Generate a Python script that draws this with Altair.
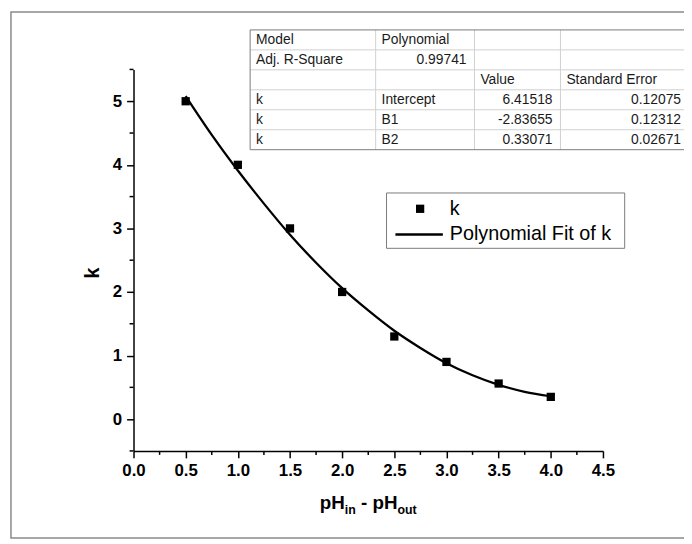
import altair as alt
import pandas as pd

# ---------------- data ----------------
ph_diff = [0.5, 1.0, 1.5, 2.0, 2.5, 3.0, 3.5, 4.0]
k_vals = [5.0, 4.0, 3.0, 2.0, 1.3, 0.9, 0.56, 0.35]

fit_x = [0.5, 0.75, 1.0, 1.25, 1.5, 1.75, 2.0, 2.25, 2.5, 2.75, 3.0, 3.25, 3.5, 3.75, 4.0]
fit_k = [5.08, 4.47, 3.91, 3.39, 2.90, 2.46, 2.06, 1.71, 1.39, 1.12, 0.88, 0.69, 0.54, 0.43, 0.36]

x_ticks = [0.0, 0.5, 1.0, 1.5, 2.0, 2.5, 3.0, 3.5, 4.0, 4.5]
x_minor = [0.25, 0.75, 1.25, 1.75, 2.25, 2.75, 3.25, 3.75, 4.25]
y_ticks = [0, 1, 2, 3, 4, 5]
y_minor = [-0.5, 0.5, 1.5, 2.5, 3.5, 4.5, 5.5]

table_model = ["Model", "Adj. R-Square", "", "k", "k", "k"]
table_param = ["Polynomial", "0.99741", "", "Intercept", "B1", "B2"]
table_value = ["", "", "Value", "6.41518", "-2.83655", "0.33071"]
table_error = ["", "", "Standard Error", "0.12075", "0.12312", "0.02671"]

legend_labels = ["k", "Polynomial Fit of k"]
x_title_parts = ["pH", "in", "-", "pH", "out"]
y_title = "k"

# ---------------- layout ----------------
W, H = 475, 386
OX, OY = 135, 67          # page position of plot origin
FONT = "Liberation Sans"


def px(X):
    return X - OX


def py(Y):
    return Y - OY


one = pd.DataFrame({"a": [0]})

# outer frame
frame = alt.Chart(one).mark_rect(filled=False, stroke="#8a8a8a", strokeWidth=1.5).encode(
    x=alt.value(px(11)), x2=alt.value(px(700)), y=alt.value(py(8.8)), y2=alt.value(py(541))
)

# ---------------- table ----------------
col_edges = [253, 380, 480, 567, 697]
row_top, row_h = 27, 20.2
n_rows = len(table_model)
columns = [table_model, table_param, table_value, table_error]


def is_num(s):
    try:
        float(s)
        return True
    except ValueError:
        return False


cells = []
for ci, col in enumerate(columns):
    for ri, txt in enumerate(col):
        if not txt:
            continue
        num = is_num(txt) and ci > 0
        cy = row_top + row_h * ri + row_h / 2 + 0.5
        if num:
            cells.append({"x": px(col_edges[ci + 1] - 8), "y": py(cy), "t": txt, "al": "right"})
        else:
            cells.append({"x": px(col_edges[ci] + 6), "y": py(cy), "t": txt, "al": "left"})
cells = pd.DataFrame(cells)

table_bottom = row_top + row_h * n_rows
table_bg = alt.Chart(one).mark_rect(fill="white").encode(
    x=alt.value(px(col_edges[0])), x2=alt.value(px(col_edges[-1])),
    y=alt.value(py(row_top)), y2=alt.value(py(table_bottom)),
)

lines = []
for ri in range(n_rows + 1):
    yy = row_top + row_h * ri
    c = "#7a7a7a" if ri in (0, n_rows) else "#cfcfcf"
    lines.append({"x": px(col_edges[0]), "x2": px(col_edges[-1]), "y": py(yy), "y2": py(yy), "c": c})
for ci, xx in enumerate(col_edges[:-1]):
    c = "#7a7a7a" if ci == 0 else "#cfcfcf"
    lines.append({"x": px(xx), "x2": px(xx), "y": py(row_top), "y2": py(table_bottom), "c": c})
lines = pd.DataFrame(lines)
lines = lines.sort_values("c", ascending=False)

table_lines = alt.Chart(lines).mark_rule(strokeWidth=1).encode(
    x=alt.X("x:Q", scale=None), x2="x2:Q",
    y=alt.Y("y:Q", scale=None), y2="y2:Q",
    color=alt.Color("c:N", scale=None),
)

table_text_left = alt.Chart(cells[cells.al == "left"]).mark_text(
    align="left", baseline="middle", font=FONT, fontSize=14, color="#1a1a1a"
).encode(x=alt.X("x:Q", scale=None), y=alt.Y("y:Q", scale=None), text="t:N")

table_text_right = alt.Chart(cells[cells.al == "right"]).mark_text(
    align="right", baseline="middle", font=FONT, fontSize=14, color="#1a1a1a"
).encode(x=alt.X("x:Q", scale=None), y=alt.Y("y:Q", scale=None), text="t:N")

# ---------------- legend ----------------
leg_box = alt.Chart(one).mark_rect(fill="white", stroke="#7a7a7a", strokeWidth=1).encode(
    x=alt.value(px(391)), x2=alt.value(px(632)), y=alt.value(py(192)), y2=alt.value(py(248))
)
leg_marker = alt.Chart(one).mark_square(size=70, color="black", opacity=1).encode(
    x=alt.value(px(425)), y=alt.value(py(208))
)
leg_line = alt.Chart(one).mark_rule(color="black", strokeWidth=2.5).encode(
    x=alt.value(px(400)), x2=alt.value(px(448)), y=alt.value(py(234))
)
leg_df = pd.DataFrame({"t": legend_labels, "y": [py(208), py(234)]})
leg_text = alt.Chart(leg_df).mark_text(
    align="left", baseline="middle", font=FONT, fontSize=20, color="black"
).encode(x=alt.value(px(455)), y=alt.Y("y:Q", scale=None), text="t:N")

# ---------------- axis titles ----------------
big, small = 19, 12.5
part_w = [1.333 * big, 0.889 * small + 0.278 * big, 0.333 * big + 0.278 * big, 1.333 * big, 1.555 * small]
sizes = [big, small, big, big, small]
start = OX + W / 2 - sum(part_w) / 2
base_y = 512
title_parts = []
xx = start
for part, w, s in zip(x_title_parts, part_w, sizes):
    title_parts.append({"t": part, "x": px(xx), "y": py(base_y + (0 if s == big else 5)), "s": s})
    xx += w
title_df = pd.DataFrame(title_parts)
x_title = alt.Chart(title_df).mark_text(
    align="left", baseline="alphabetic", font=FONT, fontWeight="bold", color="black"
).encode(
    x=alt.X("x:Q", scale=None), y=alt.Y("y:Q", scale=None), text="t:N",
    size=alt.Size("s:Q", scale=None, legend=None),
)

y_title_mark = alt.Chart(pd.DataFrame({"t": [y_title]})).mark_text(
    align="center", baseline="middle", font=FONT, fontWeight="bold", fontSize=20,
    color="black", angle=270
).encode(x=alt.value(px(94)), y=alt.value(py(273)), text="t:N")

# ---------------- data layers ----------------
xscale = alt.Scale(domain=[0, 4.5], nice=False, zero=False)
yscale = alt.Scale(domain=[-0.5, 5.5], nice=False, zero=False)

pts = pd.DataFrame({"x": ph_diff, "k": k_vals})
fit = pd.DataFrame({"x": fit_x, "k": fit_k})

xaxis = alt.Axis(
    values=x_ticks, format=".1f", title=None, grid=False,
    labelFont=FONT, labelFontWeight="bold", labelFontSize=17, labelColor="black",
    labelPadding=5, labelFlush=False, labelOverlap=False,
    tickSize=7, tickColor="black", tickWidth=1.5,
    domainColor="black", domainWidth=1.5,
)
yaxis = alt.Axis(
    values=y_ticks, format="d", title=None, grid=False,
    labelFont=FONT, labelFontWeight="bold", labelFontSize=17, labelColor="black",
    labelPadding=5, labelFlush=False, labelOverlap=False,
    tickSize=7, tickColor="black", tickWidth=1.5,
    domainColor="black", domainWidth=1.5,
)

points = alt.Chart(pts).mark_square(size=70, color="black", opacity=1).encode(
    x=alt.X("x:Q", scale=xscale, axis=xaxis),
    y=alt.Y("k:Q", scale=yscale, axis=yaxis),
)

curve = alt.Chart(fit).mark_line(color="black", strokeWidth=2.3, interpolate="monotone").encode(
    x=alt.X("x:Q", scale=xscale, axis=xaxis),
    y=alt.Y("k:Q", scale=yscale, axis=yaxis),
)

xminor = alt.Chart(pd.DataFrame({"x": x_minor})).mark_rule(color="black", strokeWidth=1.5).encode(
    x=alt.X("x:Q", scale=xscale, axis=xaxis), y=alt.value(H), y2=alt.value(H + 4)
)
yminor = alt.Chart(pd.DataFrame({"k": y_minor})).mark_rule(color="black", strokeWidth=1.5).encode(
    y=alt.Y("k:Q", scale=yscale, axis=yaxis), x=alt.value(0), x2=alt.value(-4)
)

chart = alt.layer(
    frame, curve, points, xminor, yminor,
    table_bg, table_lines, table_text_left, table_text_right,
    leg_box, leg_marker, leg_line, leg_text,
    x_title, y_title_mark,
).properties(
    width=W, height=H,
    autosize=alt.AutoSizeParams(type="none"),
    padding={"left": OX - 8, "top": OY - 8, "right": 684 - (OX - 8) - W, "bottom": 536 - (OY - 8) - H},
).configure_view(stroke=None)

chart.save("out.html", embed_options={"renderer": "svg", "actions": False})
